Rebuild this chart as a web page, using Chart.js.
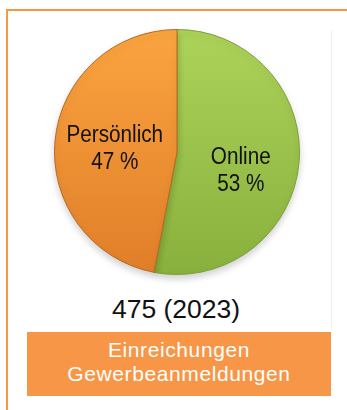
<!DOCTYPE html>
<html lang="de">
<head>
<meta charset="utf-8">
<script src="https://cdn.jsdelivr.net/npm/chart.js@4/dist/chart.umd.min.js"></script>
<style>
  html, body { margin: 0; padding: 0; background: #fff; }
  body { width: 347px; height: 410px; position: relative; overflow: hidden;
         font-family: "Liberation Sans", Arial, sans-serif; }
  .frame { position: absolute; left: 6px; top: 9px; width: 360px; height: 420px;
           border-left: 2px solid #F79646; border-top: 2px solid #F79646; }
  .edge { position: absolute; left: 331px; top: 30px; width: 1px; height: 300px; background: #f1f1f1; }
  .pie-wrap { position: absolute; left: 44px; top: 19px; width: 266px; height: 266px; }
  .total { position: absolute; left: 0; width: 352px; top: 294px; text-align: center;
           font-size: 26.5px; line-height: 30px; color: #111; }
  .box { position: absolute; left: 27px; top: 332px; width: 304px; height: 64px; background: #F79646; }
  .caption { position: absolute; left: 27px; top: 338px; width: 304px; color: #fff; text-align: center;
             font-size: 21px; line-height: 24.4px; letter-spacing: 0.6px; }
</style>
</head>
<body>
<div class="frame"></div>
<div class="edge"></div>
<div class="pie-wrap"><canvas id="pie"></canvas></div>
<div class="total" id="total"></div>
<div class="box"></div>
<div class="caption">Einreichungen<br>Gewerbeanmeldungen</div>

<script>
// Einreichungen nach Kanal
const categories = ['Online', 'Persönlich'];
const shares = [53, 47];
const totalCount = 475;
const year = 2023;

document.getElementById('total').textContent = `${totalCount} (${year})`;

// leichte 3D-Optik: oben heller, unten dunkler
function sliceGradient(ctx, top, bottom) {
    const area = ctx.chart.chartArea;
    if (!area) return top;
    const g = ctx.chart.ctx.createLinearGradient(0, area.top, 0, area.bottom);
    g.addColorStop(0, top);
    g.addColorStop(1, bottom);
    return g;
}

const fills = [['#ADD35A', '#88B03C'], ['#FBA440', '#E07E28']];

// Beschriftung in den Segmenten (schmal gesetzt)
const sliceLabels = {
    id: 'sliceLabels',
    afterDatasetsDraw(chart, args, opts) {
        const ctx = chart.ctx;
        const meta = chart.getDatasetMeta(0);
        meta.data.forEach((arc, i) => {
            const mid = (arc.startAngle + arc.endAngle) / 2;
            const r = arc.outerRadius * opts.factor[i];
            const x = arc.x + Math.cos(mid) * r;
            const y = arc.y + Math.sin(mid) * r + opts.dy[i];
            ctx.save();
            ctx.translate(x, y);
            ctx.scale(0.9, 1);
            ctx.fillStyle = '#111';
            ctx.font = '23px "Liberation Sans", Arial, sans-serif';
            ctx.textAlign = 'center';
            ctx.textBaseline = 'alphabetic';
            ctx.fillText(categories[i], 0, -5.5);
            ctx.fillText(shares[i] + ' %', 0, 22);
            ctx.restore();
        });
    }
};

// weicher Schatten unter dem Kreis
const pieShadow = {
    id: 'pieShadow',
    beforeDatasetsDraw(chart) {
        const ctx = chart.ctx;
        ctx.save();
        ctx.shadowColor = 'rgba(0,0,0,0.18)';
        ctx.shadowBlur = 7;
        ctx.shadowOffsetY = 4;
    },
    afterDatasetsDraw(chart) {
        chart.ctx.restore();
    }
};

new Chart(document.getElementById('pie'), {
    type: 'pie',
    data: {
        labels: categories,
        datasets: [{
            data: shares,
            backgroundColor: ctx => sliceGradient(ctx, fills[ctx.dataIndex][0], fills[ctx.dataIndex][1]),
            borderColor: ['#7E9F37', '#B9691F'],
            borderWidth: 1,
            hoverOffset: 0
        }]
    },
    options: {
        responsive: true,
        maintainAspectRatio: false,
        animation: false,
        layout: { padding: 10 },
        plugins: {
            legend: { display: false },
            tooltip: { enabled: false },
            sliceLabels: { factor: [0.523, 0.51], dy: [11, 1.3] }
        }
    },
    plugins: [pieShadow, sliceLabels]
});
</script>
</body>
</html>
